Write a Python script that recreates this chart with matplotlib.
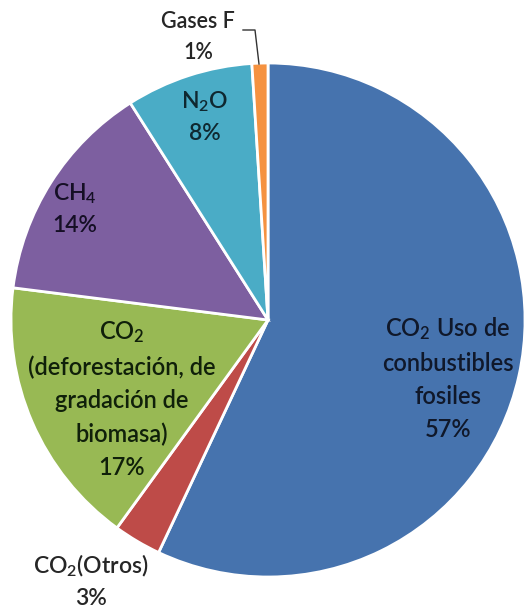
import matplotlib.pyplot as plt

plt.rcParams['font.family'] = ['Lato', 'DejaVu Sans']
plt.rcParams['mathtext.fontset'] = 'custom'
plt.rcParams['mathtext.rm'] = 'Lato'
plt.rcParams['mathtext.default'] = 'regular'

# emisiones de gases de efecto invernadero por tipo (%)
categorias = ["CO$_2$ Uso de\nconbustibles\nfosiles", "CO$_2$(Otros)",
              "CO$_2$\n(deforestación, de\ngradación de\nbiomasa)",
              "CH$_4$", "N$_2$O", "Gases F"]
valores = [57, 3, 17, 14, 8, 1]
colores = ['#4673AE', '#BE4B48', '#98B954', '#7D5FA0', '#4AACC6', '#F59240']
separar = [0.027, 0, 0, 0, 0, 0]

W, H = 529, 611
fig = plt.figure(figsize=(W / 100, H / 100), dpi=100)
ax = fig.add_axes([0, 0, 1, 1])

cx, cy, r = 268, H - 320, 257
ax.pie(valores, colors=colores, explode=separar, startangle=90, counterclock=False,
       center=(cx, cy), radius=r,
       wedgeprops=dict(edgecolor='white', linewidth=2))

# posiciones de las etiquetas (pixeles, desde arriba)
pos = [(448, 378), (91, 581), (122, 399), (75, 209), (205, 117), (198, 37)]
tam = [17, 16.5, 17, 16.5, 16.5, 15.5]
color_txt = ['#10182a', '#262626', '#10200a', '#150f25', '#0f2830', '#262626']
for cat, v, (x, y), s, c in zip(categorias, valores, pos, tam, color_txt):
    ax.text(x, H - y, f"{cat}\n{v}%", ha='center', va='center', fontsize=s,
            color=c, linespacing=1.53, fontweight='semibold')

# línea guía de Gases F
ax.plot([243, 255, 259], [H - 30, H - 30, H - 64], color='#333333', lw=1)

ax.set_xlim(0, W)
ax.set_ylim(0, H)
ax.set_aspect('auto')
ax.axis('off')
fig.savefig('out.png', dpi=100)
